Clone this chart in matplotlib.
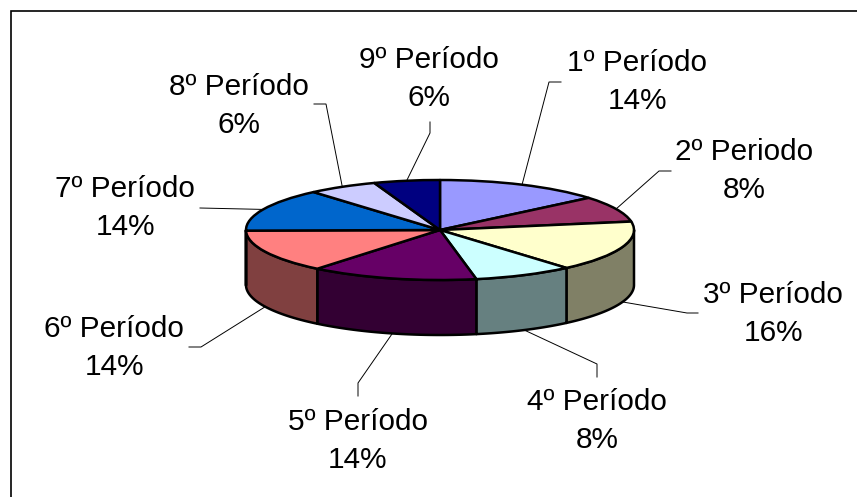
#!/usr/bin/env python3
"""3-D looking pie of students per period, Excel style: squashed pie plus side walls."""
import numpy as np
import matplotlib
matplotlib.use("Agg")
import matplotlib.pyplot as plt

# slices, clockwise from 12 o'clock
periods = ["1º Período", "2º Periodo", "3º Período", "4º Período", "5º Período",
           "6º Período", "7º Período", "8º Período", "9º Período"]
shares = [13.9, 8.4, 16.4, 8.3, 13.9, 13.9, 13.9, 5.8, 5.5]
pct_labels = ["14%", "8%", "16%", "8%", "14%", "14%", "14%", "6%", "6%"]
colors = ["#9999FF", "#993366", "#FFFFCC", "#CCFFFF", "#660066",
          "#FF8080", "#0066CC", "#CCCCFF", "#000080"]

# layout, all in image pixels
W, H = 857, 497
CX, CY = 440, 230      # hub
RX, RY = 194, 50       # ellipse radii
DEPTH = 55             # wall height
label_xy = [(637, 82), (744, 171), (773, 314), (597, 421), (358, 441),
            (114, 348), (125, 208), (239, 106), (429, 79)]
elbow_xy = [[(549, 82), (561, 82)], [(659, 171), (671, 171)], [(687, 313), (698, 313)],
            [(597, 364), (597, 377)], [(358, 383), (358, 396)], [(201, 347), (189, 347)],
            [(200, 208)], [(326, 104), (314, 104)], [(430, 133), (430, 122)]]


def px(x, y):
    """image pixels -> data units of the unit-circle pie"""
    return (x - CX) / RX, (CY - y) / RY


def darker(c):
    r, g, b = matplotlib.colors.to_rgb(c)
    return (r * 0.5, g * 0.5, b * 0.5)


fig = plt.figure(figsize=(W / 100, H / 100), dpi=100)
ax = fig.add_axes([0, 0, 1, 1])

edges = np.concatenate([[0], np.cumsum(shares)]) / np.sum(shares) * 360.0
depth = DEPTH / RY

# side walls, only the front half (90..270 deg clockwise from top)
for i, col in enumerate(colors):
    a0, a1 = max(edges[i], 90), min(edges[i + 1], 270)
    if a1 <= a0:
        continue
    t = np.radians(np.linspace(a0, a1, 60))
    xs = np.sin(t)
    ys = np.cos(t)
    ax.fill(np.r_[xs, xs[::-1]], np.r_[ys, ys[::-1] - depth], fc=darker(col),
            ec="black", lw=1.8, joinstyle="round")

ax.pie(shares, colors=colors, startangle=90, counterclock=False, radius=1, frame=True,
       wedgeprops=dict(edgecolor="black", linewidth=1.8, joinstyle="round"))

# leaders start on the rim at the wedge's mid angle, on the wall for front wedges
for i, elbow in enumerate(elbow_xy):
    mid = np.radians((edges[i] + edges[i + 1]) / 2)
    x0, y0 = np.sin(mid), np.cos(mid)
    if y0 < 0:
        y0 -= depth
    pts = [px(*p) for p in elbow]
    ax.plot([x0] + [p[0] for p in pts], [y0] + [p[1] for p in pts],
            color="black", lw=0.7, zorder=0.5, solid_joinstyle="miter")

for name, pct, (lx, ly) in zip(periods, pct_labels, label_xy):
    x, y = px(lx, ly)
    ax.text(x, y, f"{name}\n{pct}", ha="center", va="center", multialignment="center",
            family="Liberation Sans", fontsize=21.4, color="black", linespacing=1.48)

# chart area frame: only left and top are in the picture
x0, y0 = px(10.5, 10.5)
x1, y1 = px(W, H)
ax.plot([x0, x0, x1], [y1, y0, y0], color="black", lw=1.2, solid_joinstyle="miter", zorder=0.5)

ax.set_aspect("auto")
ax.set_xlim(px(0, 0)[0], px(W, 0)[0])
ax.set_ylim(px(0, H)[1], px(0, 0)[1])
ax.axis("off")

fig.savefig("out.png", dpi=100, facecolor="white")
